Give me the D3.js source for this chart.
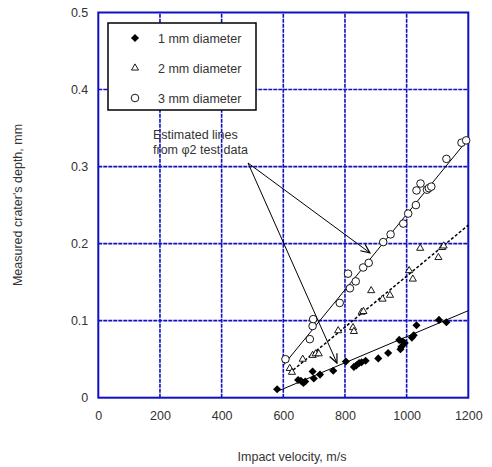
<!DOCTYPE html>
<html lang="en">
<head>
	<meta charset="UTF-8">
	<title>Crater depth vs impact velocity</title>
	<script src="https://d3js.org/d3.v7.min.js"></script>
	<style>
		body {
			margin: 0;
			background: #fff;
		}
		svg {
			display: block;
		}
		text {
			font-family: Arial, "Liberation Sans", sans-serif;
			fill: #333;
		}
	</style>
</head>
<body>
<div id="chart"></div>
<script>
	// Measured points: [impact velocity m/s, crater depth mm]
	const dia1 = [
		[580, 0.011], [648, 0.023], [657, 0.022], [665, 0.019], [671, 0.021],
		[695, 0.034], [699, 0.025], [719, 0.030], [762, 0.035], [803, 0.047],
		[829, 0.040], [837, 0.042], [846, 0.045], [854, 0.046], [867, 0.048],
		[908, 0.051], [940, 0.058], [976, 0.075], [980, 0.063], [983, 0.066],
		[987, 0.073], [994, 0.071], [1017, 0.078], [1023, 0.081], [1032, 0.094],
		[1105, 0.101], [1129, 0.098]
	];
	const dia2 = [
		[621, 0.038], [628, 0.033], [663, 0.050], [695, 0.055], [705, 0.057],
		[715, 0.057], [778, 0.087], [826, 0.091], [829, 0.086], [854, 0.111],
		[860, 0.112], [885, 0.139], [922, 0.128], [946, 0.133], [1008, 0.165],
		[1020, 0.154], [1044, 0.194], [1103, 0.182], [1115, 0.195], [1120, 0.197]
	];
	const dia3 = [
		[607, 0.050], [686, 0.076], [695, 0.093], [697, 0.102], [783, 0.123],
		[810, 0.161], [816, 0.142], [835, 0.151], [859, 0.169], [877, 0.175],
		[924, 0.202], [948, 0.212], [989, 0.226], [1005, 0.239], [1030, 0.250],
		[1032, 0.269], [1045, 0.278], [1066, 0.270], [1072, 0.272], [1080, 0.274],
		[1129, 0.310], [1178, 0.331], [1193, 0.334]
	];

	// Estimated lines (start and end point of each fit)
	const fit1 = [[585, 0.009], [1200, 0.113]];
	const fit2 = [[632, 0.036], [1200, 0.224]];
	const fit3 = [[600, 0.042], [1200, 0.336]];

	const legendLabels = ["1 mm diameter", "2 mm diameter", "3 mm diameter"];
	const xTicks = [0, 200, 400, 600, 800, 1000, 1200];
	const yTicks = [0, 0.1, 0.2, 0.3, 0.4, 0.5];

	// Annotation: text lines and arrow targets in data units
	const noteLines = ["Estimated lines", "from \u03c62 test data"];
	const noteTargets = [[881, 0.188], [774, 0.045]];

	const W = 492, H = 467;
	const blue = "#1010c0";

	const x = d3.scaleLinear().domain([0, 1200]).range([98.3, 468.3]);
	const y = d3.scaleLinear().domain([0, 0.5]).range([397.7, 12.5]);

	const svg = d3.create("svg")
		.attr("width", W)
		.attr("height", H);

	// arrow head
	svg.append("defs").append("marker")
		.attr("id", "arrow")
		.attr("viewBox", "0 0 10 10")
		.attr("refX", 9)
		.attr("refY", 5)
		.attr("markerWidth", 10)
		.attr("markerHeight", 10)
		.attr("markerUnits", "userSpaceOnUse")
		.attr("orient", "auto")
		.append("path")
		.attr("d", "M0,1 L9,5 L0,9")
		.attr("fill", "none")
		.attr("stroke", "#000")
		.attr("stroke-width", 1.2);

	// gridlines
	const grid = svg.append("g");
	grid.selectAll(".vg")
		.data(xTicks.slice(1, -1))
		.join("line")
		.attr("x1", d => x(d)).attr("x2", d => x(d))
		.attr("y1", y(0)).attr("y2", y(0.5))
		.attr("stroke", blue)
		.attr("stroke-width", 1.6)
		.attr("stroke-dasharray", "4,1");
	grid.selectAll(".hg")
		.data(yTicks.slice(1, -1))
		.join("line")
		.attr("x1", x(0)).attr("x2", x(1200))
		.attr("y1", d => y(d)).attr("y2", d => y(d))
		.attr("stroke", blue)
		.attr("stroke-width", 1.6)
		.attr("stroke-dasharray", "4,1");

	// plot frame
	svg.append("rect")
		.attr("x", x(0))
		.attr("y", y(0.5))
		.attr("width", x(1200) - x(0))
		.attr("height", y(0) - y(0.5))
		.attr("fill", "none")
		.attr("stroke", blue)
		.attr("stroke-width", 2);

	// axes labels
	const xAxis = svg.append("g")
		.attr("transform", `translate(0,${y(0)})`)
		.call(d3.axisBottom(x).tickValues(xTicks).tickSize(0).tickPadding(13).tickFormat(d3.format("d")));
	const yAxis = svg.append("g")
		.attr("transform", `translate(${x(0)},0)`)
		.call(d3.axisLeft(y).tickValues(yTicks).tickSize(0).tickPadding(10).tickFormat(d => d === 0 ? "0" : d3.format(".1f")(d)));
	[xAxis, yAxis].forEach(a => {
		a.select(".domain").remove();
		a.selectAll("text")
			.style("font-size", "12.5px")
			.style("font-family", "Arial, 'Liberation Sans', sans-serif")
			.attr("fill", "#333");
	});

	svg.append("text")
		.attr("x", 292)
		.attr("y", 461)
		.attr("text-anchor", "middle")
		.style("font-size", "12.5px")
		.text("Impact velocity, m/s");

	svg.append("text")
		.attr("transform", "translate(22,205) rotate(-90)")
		.attr("text-anchor", "middle")
		.style("font-size", "12.5px")
		.text("Measured crater's depth, mm");

	// fitted lines
	const line = d3.line().x(d => x(d[0])).y(d => y(d[1]));
	svg.append("path").attr("d", line(fit1))
		.attr("fill", "none").attr("stroke", "#000").attr("stroke-width", 1);
	svg.append("path").attr("d", line(fit2))
		.attr("fill", "none").attr("stroke", "#000").attr("stroke-width", 1.5)
		.attr("stroke-dasharray", "3,2");
	svg.append("path").attr("d", line(fit3))
		.attr("fill", "none").attr("stroke", "#000").attr("stroke-width", 1);

	// markers
	const diamond = d3.symbol().type(d3.symbolDiamond2).size(42);
	const triangle = d3.symbol().type(d3.symbolTriangle2).size(36);

	function drawDiamond(g) {
		g.attr("d", diamond).attr("fill", "#000");
	}
	function drawTriangle(g) {
		g.attr("d", triangle).attr("fill", "#fff").attr("stroke", "#000").attr("stroke-width", 0.9);
	}

	svg.append("g").selectAll("path")
		.data(dia1)
		.join("path")
		.attr("transform", d => `translate(${x(d[0])},${y(d[1])})`)
		.call(drawDiamond);

	svg.append("g").selectAll("path")
		.data(dia2)
		.join("path")
		.attr("transform", d => `translate(${x(d[0])},${y(d[1])})`)
		.call(drawTriangle);

	svg.append("g").selectAll("circle")
		.data(dia3)
		.join("circle")
		.attr("cx", d => x(d[0]))
		.attr("cy", d => y(d[1]))
		.attr("r", 3.8)
		.attr("fill", "#fff")
		.attr("stroke", "#000")
		.attr("stroke-width", 0.9);

	// legend
	const legend = svg.append("g");
	legend.append("rect")
		.attr("x", 108).attr("y", 23)
		.attr("width", 148).attr("height", 87)
		.attr("fill", "#fff")
		.attr("stroke", "#000")
		.attr("stroke-width", 1.5);
	const rows = legend.selectAll("g")
		.data(legendLabels)
		.join("g")
		.attr("transform", (d, i) => `translate(135,${38 + i * 30})`);
	rows.filter((d, i) => i === 0).append("path").call(drawDiamond);
	rows.filter((d, i) => i === 1).append("path").call(drawTriangle);
	rows.filter((d, i) => i === 2).append("circle")
		.attr("r", 3.8).attr("fill", "#fff").attr("stroke", "#000").attr("stroke-width", 0.9);
	rows.append("text")
		.attr("x", 23)
		.attr("y", 4.5)
		.style("font-size", "12.5px")
		.text(d => d);

	// annotation
	svg.append("g").selectAll("text")
		.data(noteLines)
		.join("text")
		.attr("x", 153)
		.attr("y", (d, i) => 139 + i * 15)
		.style("font-size", "12.5px")
		.text(d => d);

	const origin = [248, 163];
	svg.append("g").selectAll("line")
		.data(noteTargets)
		.join("line")
		.attr("x1", origin[0]).attr("y1", origin[1])
		.attr("x2", d => x(d[0])).attr("y2", d => y(d[1]))
		.attr("stroke", "#000")
		.attr("stroke-width", 1)
		.attr("marker-end", "url(#arrow)");

	document.getElementById("chart").append(svg.node());
</script>
</body>
</html>
